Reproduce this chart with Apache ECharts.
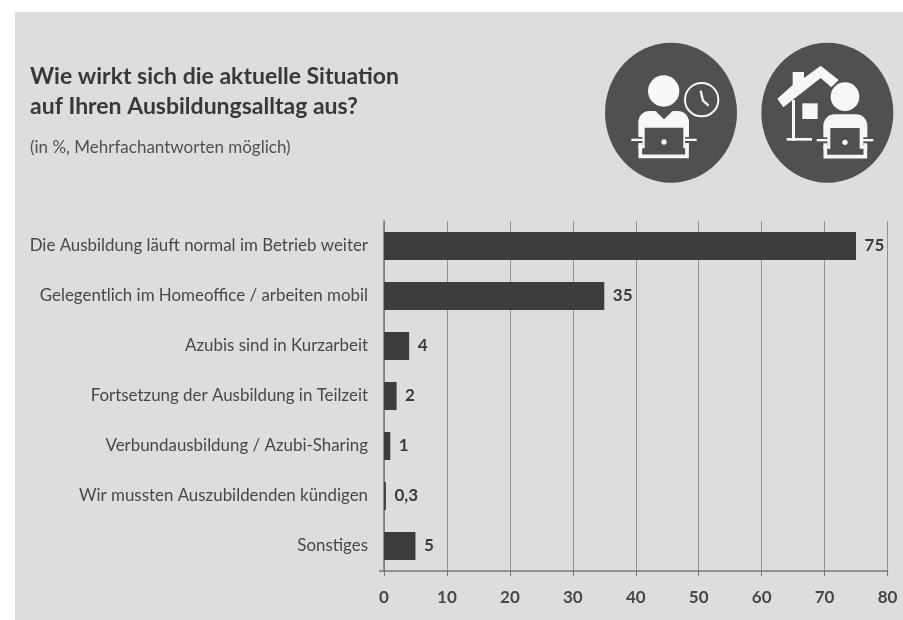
<!DOCTYPE html>
<html>
<head>
<meta charset="utf-8">
<style>html,body{margin:0;padding:0;background:#fff}#chart{width:903px;height:620px}</style>
<script src="https://cdn.jsdelivr.net/npm/echarts@6/dist/echarts.min.js"></script>
</head>
<body>
<div id="chart"></div>
<script>
const categories = [
  'Die Ausbildung läuft normal im Betrieb weiter',
  'Gelegentlich im Homeoffice / arbeiten mobil',
  'Azubis sind in Kurzarbeit',
  'Fortsetzung der Ausbildung in Teilzeit',
  'Verbundausbildung / Azubi-Sharing',
  'Wir mussten Auszubildenden kündigen',
  'Sonstiges'
];
const shares = [75, 35, 4, 2, 1, 0.3, 5];
const axisTicks = [0, 10, 20, 30, 40, 50, 60, 70, 80];
const titleLines = ['Wie wirkt sich die aktuelle Situation', 'auf Ihren Ausbildungsalltag aus?'];
const subtitle = '(in %, Mehrfachantworten möglich)';

const FONT = 'Lato';
const PANEL = '#dcdddf';
const DARK = '#3d3d3e';
const ICON_BG = '#505052';
const GRID = '#929394';
const AXIS = '#77787a';
const WHITE = '#f7f7f7';

const poly = (points, fill) => ({ type: 'polygon', shape: { points }, style: { fill } });
const stroke = (points, lineWidth) => ({ type: 'polyline', shape: { points }, style: { fill: 'none', stroke: WHITE, lineWidth } });
const disc = (cx, cy, r, fill) => ({ type: 'circle', shape: { cx, cy, r }, style: { fill } });
const box = (x, y, width, height, fill, r) => ({ type: 'rect', shape: { x, y, width, height, r: r || 0 }, style: { fill } });

// Person working on a laptop; the icons below use a 3x local grid.
function laptopUser(opts) {
  const { left, right, top, scrL, scrR, barL, barR, y0 } = opts;
  const mid = (scrL + scrR) / 2;
  return [
    box(left, top, right - left, y0 + 62 - top, WHITE, [34, 34, 0, 0]),
    box(left - 2, y0 + 28, 14, 24, ICON_BG),
    box(right - 12, y0 + 28, 14, 24, ICON_BG),
    box(scrL, y0, scrR - scrL, 78, ICON_BG),
    stroke([[left + 6, y0 + 46], [left + 6, y0 + 86], [right - 6, y0 + 86], [right - 6, y0 + 46]], 11),
    box(barL, y0 + 33, scrL - barL - 2, 7, WHITE),
    box(scrR + 2, y0 + 33, barR - scrR - 2, 7, WHITE),
    disc(mid, y0 + 43, 8, WHITE)
  ];
}

const clockIcon = {
  type: 'group', x: 590, y: 50, scaleX: 1 / 3, scaleY: 1 / 3,
  children: [
    { type: 'ellipse', shape: { cx: 243, cy: 188, rx: 198, ry: 210 }, style: { fill: ICON_BG } },
    disc(221, 123, 47, WHITE),
    ...laptopUser({ left: 145, right: 297, top: 183, scrL: 164, scrR: 280, barL: 124, barR: 320, y0: 233 }),
    poly([[193, 180], [222, 208], [251, 180]], ICON_BG),
    { type: 'circle', shape: { cx: 335, cy: 149, r: 50 }, style: { fill: ICON_BG, stroke: WHITE, lineWidth: 6 } },
    stroke([[332, 122], [339, 152], [356, 167]], 7)
  ]
};

const homeIcon = {
  type: 'group', x: 590, y: 50, scaleX: 1 / 3, scaleY: 1 / 3,
  children: [
    { type: 'ellipse', shape: { cx: 712, cy: 188, rx: 198, ry: 210 }, style: { fill: ICON_BG } },
    poly([[562, 146], [608, 105], [608, 66], [642, 66], [642, 84], [692, 47], [746, 90], [724, 112], [692, 84], [580, 172]], WHITE),
    box(606, 150, 9, 122, WHITE),
    box(590, 264, 76, 8, WHITE),
    box(637, 160, 46, 47, WHITE),
    disc(765, 140, 43, WHITE),
    ...laptopUser({ left: 700, right: 832, top: 193, scrL: 721, scrR: 809, barL: 680, barR: 850, y0: 234 })
  ]
};

const chart = echarts.init(document.getElementById('chart'));
chart.setOption({
  animation: false,
  backgroundColor: '#ffffff',
  graphic: [
    { type: 'rect', z: -10, shape: { x: 15, y: 12, width: 888, height: 608 }, style: { fill: PANEL } },
    { type: 'text', x: 30, y: 62, style: { text: titleLines.join('\n'), font: `700 23px ${FONT}`, fill: '#38383a', lineHeight: 30 } },
    { type: 'text', x: 30, y: 139, style: { text: subtitle, font: `17px ${FONT}`, fill: '#505052' } },
    { type: 'line', shape: { x1: 379, y1: 571, x2: 384, y2: 571 }, style: { stroke: AXIS, lineWidth: 1.5 } },
    clockIcon,
    homeIcon
  ],
  grid: { left: 384, top: 221, width: 503.5, height: 350 },
  xAxis: {
    type: 'value', min: axisTicks[0], max: axisTicks[axisTicks.length - 1], interval: 10,
    axisLine: { show: true, lineStyle: { color: AXIS, width: 1.5 } },
    axisTick: { show: true, length: 5, lineStyle: { color: AXIS } },
    axisLabel: { color: '#48484a', fontFamily: FONT, fontWeight: 700, fontSize: 17, margin: 18 },
    splitLine: { show: true, lineStyle: { color: GRID, width: 1 } }
  },
  yAxis: {
    type: 'category', data: categories, inverse: true,
    axisLine: { show: true, lineStyle: { color: AXIS, width: 1.5 } },
    axisTick: { show: false },
    axisLabel: { color: '#48484a', fontFamily: FONT, fontSize: 16.9, margin: 16 },
    splitLine: { show: false }
  },
  series: [{
    type: 'bar', data: shares, barWidth: 28,
    itemStyle: { color: DARK },
    label: {
      show: true, position: 'right', distance: 8.5,
      color: '#3a3a3c', fontFamily: FONT, fontWeight: 700, fontSize: 17,
      formatter: p => String(p.value).replace('.', ',')
    }
  }]
});
</script>
</body>
</html>
